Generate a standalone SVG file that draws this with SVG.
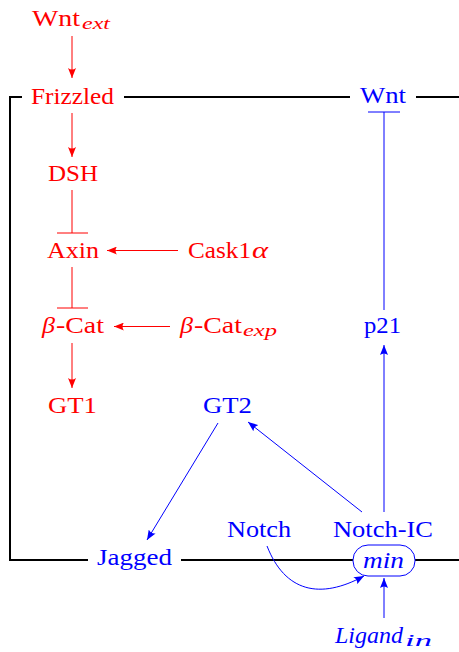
<svg xmlns="http://www.w3.org/2000/svg" width="459" height="652" viewBox="0 0 459 652">
<style>
.r{fill:#ff0000}
.b{fill:#0000ff}
.i{font-style:italic}
.lr{stroke:#ff0000;stroke-width:1;fill:none}
.lb{stroke:#0000ff;stroke-width:1;fill:none}
.box{stroke:#000;stroke-width:2;fill:none}
</style>
<defs>
<marker id="ar" viewBox="0 0 10 8" refX="10" refY="4" markerWidth="10" markerHeight="8" markerUnits="userSpaceOnUse" orient="auto">
<path d="M0,0 Q3,4 0,8 L10,4 Z" fill="#ff0000"/>
</marker>
<marker id="ab" viewBox="0 0 10 8" refX="10" refY="4" markerWidth="10" markerHeight="8" markerUnits="userSpaceOnUse" orient="auto">
<path d="M0,0 Q3,4 0,8 L10,4 Z" fill="#0000ff"/>
</marker>
</defs>
<g id="frame">
<path class="box" d="M22,97 H10 V560 H88"/>
<path class="box" d="M124,97 H350"/>
<path class="box" d="M416,97 H459"/>
<path class="box" d="M181,560 H353"/>
<path class="box" d="M415,560 H459"/>
</g>
<g id="connectors">
<path class="lr" d="M72,36 V78" marker-end="url(#ar)"/>
<path class="lr" d="M72,113 V157" marker-end="url(#ar)"/>
<path class="lr" d="M72,190 V233 M57,233 H88"/>
<path class="lr" d="M72,267 V308 M57,308 H88"/>
<path class="lr" d="M178,250.5 H107" marker-end="url(#ar)"/>
<path class="lr" d="M170,326.5 H114" marker-end="url(#ar)"/>
<path class="lr" d="M72,343 V388" marker-end="url(#ar)"/>
<path class="lb" d="M384,310 V112 M368,112 H400"/>
<path class="lb" d="M384,512 V345" marker-end="url(#ab)"/>
<path class="lb" d="M362,512 L248,422" marker-end="url(#ab)"/>
<path class="lb" d="M218,423 L147,540" marker-end="url(#ab)"/>
<path class="lb" d="M267,546 C285,592 320,600 364,576" marker-end="url(#ab)"/>
<path class="lb" d="M384,618 V578" marker-end="url(#ab)"/>
</g>
<g id="Wnt_ext"><text font-family="Liberation Serif" font-size="23" class="r" x="32" y="26" textLength="48" lengthAdjust="spacingAndGlyphs">Wnt</text><text font-family="Liberation Serif" font-size="17" class="r i" x="82" y="29" textLength="28" lengthAdjust="spacingAndGlyphs">ext</text></g>
<g id="Frizzled"><text font-family="Liberation Serif" font-size="23" class="r" x="31" y="104" textLength="83" lengthAdjust="spacingAndGlyphs">Frizzled</text></g>
<g id="Wnt"><text font-family="Liberation Serif" font-size="23" class="b" x="360" y="103" textLength="46" lengthAdjust="spacingAndGlyphs">Wnt</text></g>
<g id="DSH"><text font-family="Liberation Serif" font-size="23" class="r" x="48" y="181" textLength="50" lengthAdjust="spacingAndGlyphs">DSH</text></g>
<g id="Axin"><text font-family="Liberation Serif" font-size="23" class="r" x="47" y="258" textLength="52" lengthAdjust="spacingAndGlyphs">Axin</text></g>
<g id="Cask1a"><text font-family="Liberation Serif" font-size="23" class="r" x="188" y="258" textLength="63" lengthAdjust="spacingAndGlyphs">Cask1</text><text font-family="Liberation Serif" font-size="23" class="r i" x="252" y="258" textLength="16" lengthAdjust="spacingAndGlyphs">α</text></g>
<g id="bCat"><text font-family="Liberation Serif" font-size="23" class="r i" x="42" y="333" textLength="13" lengthAdjust="spacingAndGlyphs">β</text><text font-family="Liberation Serif" font-size="23" class="r" x="56" y="333" textLength="48" lengthAdjust="spacingAndGlyphs">-Cat</text></g>
<g id="bCat_exp"><text font-family="Liberation Serif" font-size="23" class="r i" x="180" y="333" textLength="13" lengthAdjust="spacingAndGlyphs">β</text><text font-family="Liberation Serif" font-size="23" class="r" x="194" y="333" textLength="48" lengthAdjust="spacingAndGlyphs">-Cat</text><text font-family="Liberation Serif" font-size="17" class="r i" x="243" y="336" textLength="34" lengthAdjust="spacingAndGlyphs">exp</text></g>
<g id="GT1"><text font-family="Liberation Serif" font-size="23" class="r" x="48" y="413" textLength="49" lengthAdjust="spacingAndGlyphs">GT1</text></g>
<g id="GT2"><text font-family="Liberation Serif" font-size="23" class="b" x="203" y="413" textLength="49" lengthAdjust="spacingAndGlyphs">GT2</text></g>
<g id="p21"><text font-family="Liberation Serif" font-size="23" class="b" x="364" y="333" textLength="37" lengthAdjust="spacingAndGlyphs">p21</text></g>
<g id="Notch"><text font-family="Liberation Serif" font-size="23" class="b" x="227" y="537" textLength="64" lengthAdjust="spacingAndGlyphs">Notch</text></g>
<g id="NotchIC"><text font-family="Liberation Serif" font-size="23" class="b" x="333" y="537" textLength="100" lengthAdjust="spacingAndGlyphs">Notch-IC</text></g>
<g id="Jagged"><text font-family="Liberation Serif" font-size="23" class="b" x="97" y="565" textLength="75" lengthAdjust="spacingAndGlyphs">Jagged</text></g>
<g id="min"><rect x="353" y="545" width="62" height="31" rx="15" ry="15" fill="#fff" stroke="#0000ff" stroke-width="1"/><text font-family="Liberation Serif" font-size="23" class="b i" x="363" y="568" textLength="41" lengthAdjust="spacingAndGlyphs">min</text></g>
<g id="Ligand_in"><text font-family="Liberation Serif" font-size="23" class="b i" x="335" y="643" textLength="68" lengthAdjust="spacingAndGlyphs">Ligand</text><text font-family="Liberation Serif" font-size="17" class="b i" x="405" y="646" textLength="27" lengthAdjust="spacingAndGlyphs">in</text></g>
</svg>
